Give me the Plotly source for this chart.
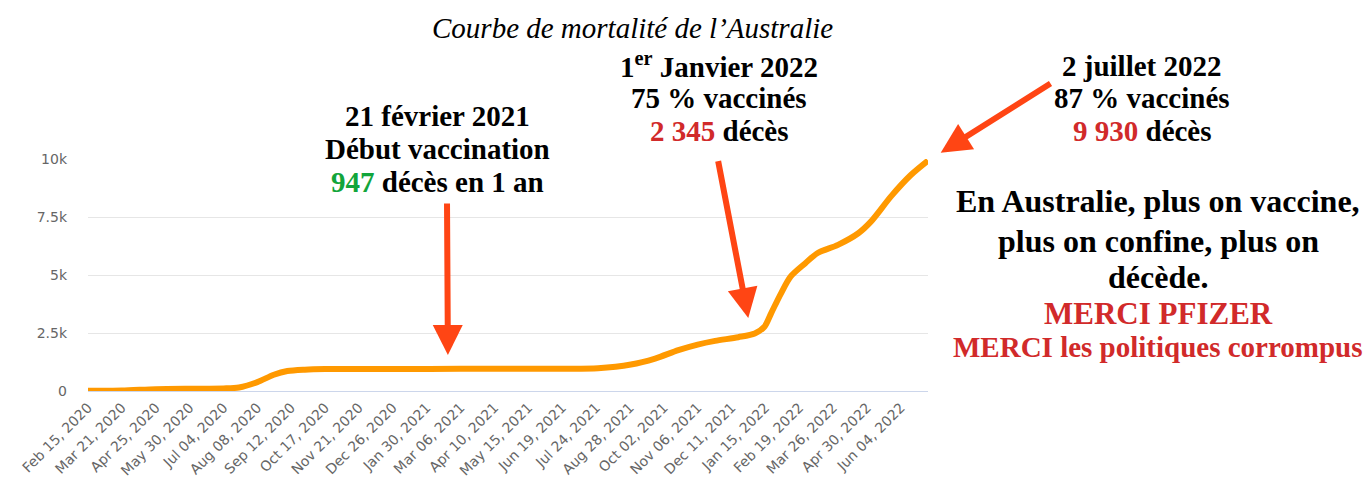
import plotly.graph_objects as go

# ---- data ----
dates = ["2020-02-15", "2020-03-21", "2020-04-25", "2020-05-30", "2020-07-04",
         "2020-07-20", "2020-08-08", "2020-08-25", "2020-09-08", "2020-09-26",
         "2020-10-17", "2020-12-26", "2021-03-06", "2021-06-19", "2021-07-26",
         "2021-08-29", "2021-09-23", "2021-10-17", "2021-11-06", "2021-11-24",
         "2021-12-18", "2022-01-04", "2022-01-14", "2022-01-21", "2022-01-31",
         "2022-02-10", "2022-02-25", "2022-03-10", "2022-03-31", "2022-04-21",
         "2022-05-04", "2022-05-25", "2022-06-14", "2022-07-02"]
deaths = [10, 20, 80, 100, 110,
          150, 380, 700, 860, 920,
          945, 950, 955, 960, 980,
          1140, 1400, 1760, 2000, 2160,
          2320, 2480, 2770, 3360, 4200,
          4930, 5500, 5950, 6300, 6800,
          7300, 8400, 9300, 9930]

tick_dates = ["2020-02-15", "2020-03-21", "2020-04-25", "2020-05-30", "2020-07-04",
              "2020-08-08", "2020-09-12", "2020-10-17", "2020-11-21", "2020-12-26",
              "2021-01-30", "2021-03-06", "2021-04-10", "2021-05-15", "2021-06-19",
              "2021-07-24", "2021-08-28", "2021-10-02", "2021-11-06", "2021-12-11",
              "2022-01-15", "2022-02-19", "2022-03-26", "2022-04-30", "2022-06-04"]
tick_labels = ["Feb 15, 2020", "Mar 21, 2020", "Apr 25, 2020", "May 30, 2020", "Jul 04, 2020",
               "Aug 08, 2020", "Sep 12, 2020", "Oct 17, 2020", "Nov 21, 2020", "Dec 26, 2020",
               "Jan 30, 2021", "Mar 06, 2021", "Apr 10, 2021", "May 15, 2021", "Jun 19, 2021",
               "Jul 24, 2021", "Aug 28, 2021", "Oct 02, 2021", "Nov 06, 2021", "Dec 11, 2021",
               "Jan 15, 2022", "Feb 19, 2022", "Mar 26, 2022", "Apr 30, 2022", "Jun 04, 2022"]
y_ticks = [0, 2500, 5000, 7500, 10000]
y_labels = ["0", "2.5k", "5k", "7.5k", "10k"]

# annotated events (date, deaths)
events = [("2021-02-21", 947), ("2022-01-01", 2345), ("2022-07-02", 9930)]

W, H = 1368, 486
ML, MR, MT, MB = 88, 440, 159, 95
PW, PH = W - ML - MR, H - MT - MB

RED = "#d12a2a"
GREEN = "#12a53b"
BLACK = "#000000"
ARROW = "#ff4514"
SERIF = "Liberation Serif"

fig = go.Figure()
fig.add_trace(go.Scatter(
    x=dates, y=deaths, mode="lines",
    line=dict(color="#ff9900", width=6, shape="spline", smoothing=0.8),
    hoverinfo="skip", showlegend=False))


def px_to_paper(px, py):
    return (px - ML) / PW, (H - MB - py) / PH


def label(text, px, py, size, color=BLACK, bold=True, italic=False):
    xp, yp = px_to_paper(px, py)
    t = f"<b>{text}</b>" if bold else text
    if italic:
        t = f"<i>{t}</i>"
    fig.add_annotation(x=xp, y=yp, xref="paper", yref="paper", text=t,
                       showarrow=False, xanchor="center", yanchor="middle",
                       font=dict(family=SERIF, size=size, color=color))


def red(s):
    return f"<span style='color:{RED}'>{s}</span>"


def green(s):
    return f"<span style='color:{GREEN}'>{s}</span>"


# title
label("Courbe de mortalité de l’Australie", 632, 28, 29, bold=False, italic=True)

# block 1
label("21 février 2021", 437, 116, 29)
label("Début vaccination", 437, 149, 29)
label(green("947") + " décès en 1 an", 437, 182, 29)

# block 2
label("1<sup>er</sup> Janvier 2022", 719, 65, 29)
label("75 % vaccinés", 719, 98, 29)
label(red("2 345") + " décès", 719, 131, 29)

# block 3
label("2 juillet 2022", 1142, 66, 29)
label("87 % vaccinés", 1142, 98, 29)
label(red("9 930") + " décès", 1142, 131, 29)

# block 4
label("En Australie, plus on vaccine,", 1158, 201, 32)
label("plus on confine, plus on", 1158, 241, 32)
label("décède.", 1158, 277, 32)
label("MERCI PFIZER", 1158, 313, 31, color=RED)
label("MERCI les politiques corrompus", 1158, 347, 29, color=RED)

# arrows pointing at events
arrow_geo = [(-1, -167, 14), (-34, -177, 19), (124, -78, 15)]
for (d, v), (ax, ay, so) in zip(events, arrow_geo):
    fig.add_annotation(x=d, y=v, xref="x", yref="y", text="", showarrow=True,
                       ax=ax, ay=ay, axref="pixel", ayref="pixel",
                       arrowhead=2, arrowsize=1.0, arrowwidth=6,
                       arrowcolor=ARROW, standoff=so)

fig.update_layout(
    width=W, height=H,
    margin=dict(l=ML, r=MR, t=MT, b=MB, pad=0, autoexpand=False),
    plot_bgcolor="white", paper_bgcolor="white",
    showlegend=False,
    xaxis=dict(
        type="date", range=["2020-02-15", "2022-07-02"],
        tickmode="array", tickvals=tick_dates, ticktext=tick_labels,
        tickangle=-45, showgrid=False, zeroline=False, automargin=False,
        showline=True, linecolor="#ccd6eb", linewidth=1,
        ticks="", ticklabelstandoff=2,
        tickfont=dict(family="DejaVu Sans", size=14, color="#666666"),
    ),
    yaxis=dict(
        range=[0, 10000], tickmode="array", tickvals=y_ticks, ticktext=y_labels,
        showgrid=True, gridcolor="#e6e6e6", gridwidth=1, zeroline=False,
        showline=False, ticks="", ticklabelstandoff=20, automargin=False,
        tickfont=dict(family="DejaVu Sans", size=14, color="#666666"),
    ),
)

fig.write_html("out.html", config={"displayModeBar": False},
               post_script="document.body.style.margin='0';document.body.style.padding='0';")
